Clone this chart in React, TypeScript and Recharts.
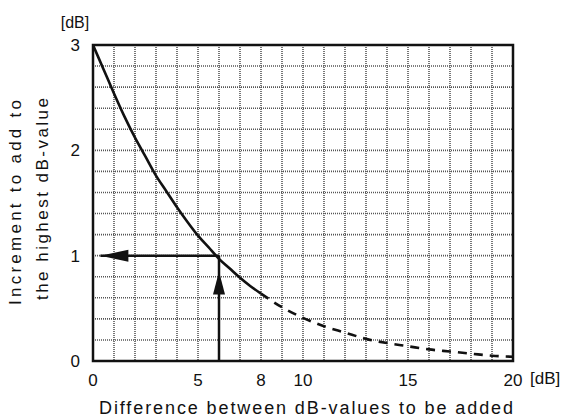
import {
  ComposedChart,
  CartesianGrid,
  Line,
  ReferenceArea,
  ReferenceLine,
  Scatter,
  XAxis,
  YAxis,
} from 'recharts'

// level difference [dB] -> increment [dB]
const solidCurve = [
  { x: 0, y: 3.0 },
  { x: 0.5, y: 2.77 },
  { x: 1, y: 2.54 },
  { x: 1.5, y: 2.32 },
  { x: 2, y: 2.12 },
  { x: 2.5, y: 1.94 },
  { x: 3, y: 1.76 },
  { x: 3.5, y: 1.61 },
  { x: 4, y: 1.46 },
  { x: 4.5, y: 1.32 },
  { x: 5, y: 1.19 },
  { x: 5.5, y: 1.08 },
  { x: 6, y: 0.97 },
  { x: 6.5, y: 0.88 },
  { x: 7, y: 0.79 },
  { x: 7.5, y: 0.71 },
  { x: 8, y: 0.64 },
]
const dashedCurve = [
  { x: 8, y: 0.64 },
  { x: 9, y: 0.51 },
  { x: 10, y: 0.41 },
  { x: 11, y: 0.33 },
  { x: 12, y: 0.27 },
  { x: 13, y: 0.21 },
  { x: 14, y: 0.17 },
  { x: 15, y: 0.14 },
  { x: 16, y: 0.11 },
  { x: 17, y: 0.09 },
  { x: 18, y: 0.07 },
  { x: 19, y: 0.05 },
  { x: 20, y: 0.04 },
]

// example read-off: 6 dB difference -> 1 dB increment
const arrowHeads = [
  { x: 6, y: 0.85, dir: 'up' },
  { x: 0.35, y: 1, dir: 'left' },
]

const xTicks = [0, 5, 8, 10, 15, 20]
const yTicks = [0, 1, 2, 3]
const gridX = [0, 1, 2, 3, 4, 5, 6, 7, 8, 9, 10, 11, 12, 13, 14, 15, 16, 17, 18, 19, 20]
const gridY = [0, 0.2, 0.4, 0.6, 0.8, 1, 1.2, 1.4, 1.6, 1.8, 2, 2.2, 2.4, 2.6, 2.8, 3]

const FONT = '"Liberation Sans", Arial, sans-serif'
const INK = '#111'

// recharts 3 may hand over the scale as a function or as an object with map()
function toPixel(axis: any, v: number): number {
  const s = axis?.scale
  if (typeof s === 'function') return s(v)
  if (s && typeof s.map === 'function') return s.map(v)
  return NaN
}

function ArrowHead(props: any) {
  const { cx, cy, payload } = props
  if (payload.dir === 'up') {
    return <polygon points={`${cx},${cy} ${cx - 6},${cy + 23} ${cx + 6},${cy + 23}`} fill={INK} />
  }
  return <polygon points={`${cx},${cy} ${cx + 28},${cy - 6} ${cx + 28},${cy + 6}`} fill={INK} />
}

function XTick(props: any) {
  const { x, payload } = props
  return (
    <text x={x} y={386} textAnchor="middle" fontSize={17} fill={INK} fontFamily={FONT}>
      {payload.value}
    </text>
  )
}

function YTick(props: any) {
  const { y, payload } = props
  return (
    <text x={80} y={y + 6} textAnchor="end" fontSize={17} fill={INK} fontFamily={FONT}>
      {payload.value}
    </text>
  )
}

function Titles() {
  return (
    <g fontFamily={FONT} fill={INK} fontSize={16}>
      <text x={75} y={28} textAnchor="middle">[dB]</text>
      <text x={530} y={384} fontSize={17}>[dB]</text>
      <text x={99} y={414} textLength={414} lengthAdjust="spacing" fontSize={18}>
        Difference between dB-values to be added
      </text>
      <text transform="translate(21,305) rotate(-90)" textLength={205} lengthAdjust="spacing" fontSize={17}>
        Increment to add to
      </text>
      <text transform="translate(48,300) rotate(-90)" textLength={202} lengthAdjust="spacing" fontSize={17}>
        the highest dB-value
      </text>
    </g>
  )
}

export default function App() {
  return (
    <div style={{ position: 'absolute', left: 0, top: 0, background: '#fff' }}>
      <ComposedChart
        width={571}
        height={419}
        margin={{ left: 53, right: 58, top: 45, bottom: 18 }}
      >
        <CartesianGrid
          stroke="#555"
          strokeWidth={1.6}
          strokeDasharray="1 1"
          horizontalCoordinatesGenerator={({ yAxis }: any) => gridY.map((v) => toPixel(yAxis, v))}
          verticalCoordinatesGenerator={({ xAxis }: any) => gridX.map((v) => toPixel(xAxis, v))}
        />
        <XAxis
          type="number"
          dataKey="x"
          domain={[0, 20]}
          ticks={xTicks}
          height={40}
          axisLine={false}
          tickLine={false}
          tick={<XTick />}
          allowDataOverflow
          label={{ content: () => <Titles /> }}
        />
        <YAxis
          type="number"
          dataKey="y"
          domain={[0, 3]}
          ticks={yTicks}
          width={40}
          axisLine={false}
          tickLine={false}
          tick={<YTick />}
          allowDataOverflow
        />
        <ReferenceArea x1={0} x2={20} y1={0} y2={3} fill="none" stroke={INK} strokeWidth={2.5} ifOverflow="visible" />
        <ReferenceLine segment={[{ x: 6, y: 0 }, { x: 6, y: 1 }]} stroke={INK} strokeWidth={2.5} />
        <ReferenceLine segment={[{ x: 6, y: 1 }, { x: 0.35, y: 1 }]} stroke={INK} strokeWidth={2.5} />
        <Line
          data={solidCurve}
          dataKey="y"
          type="monotone"
          stroke={INK}
          strokeWidth={2.6}
          dot={false}
          activeDot={false}
          isAnimationActive={false}
        />
        <Line
          data={dashedCurve}
          dataKey="y"
          type="monotone"
          stroke={INK}
          strokeWidth={2.6}
          strokeDasharray="9 7"
          dot={false}
          activeDot={false}
          isAnimationActive={false}
        />
        <Scatter data={arrowHeads} dataKey="y" shape={<ArrowHead />} isAnimationActive={false} />
      </ComposedChart>
    </div>
  )
}
